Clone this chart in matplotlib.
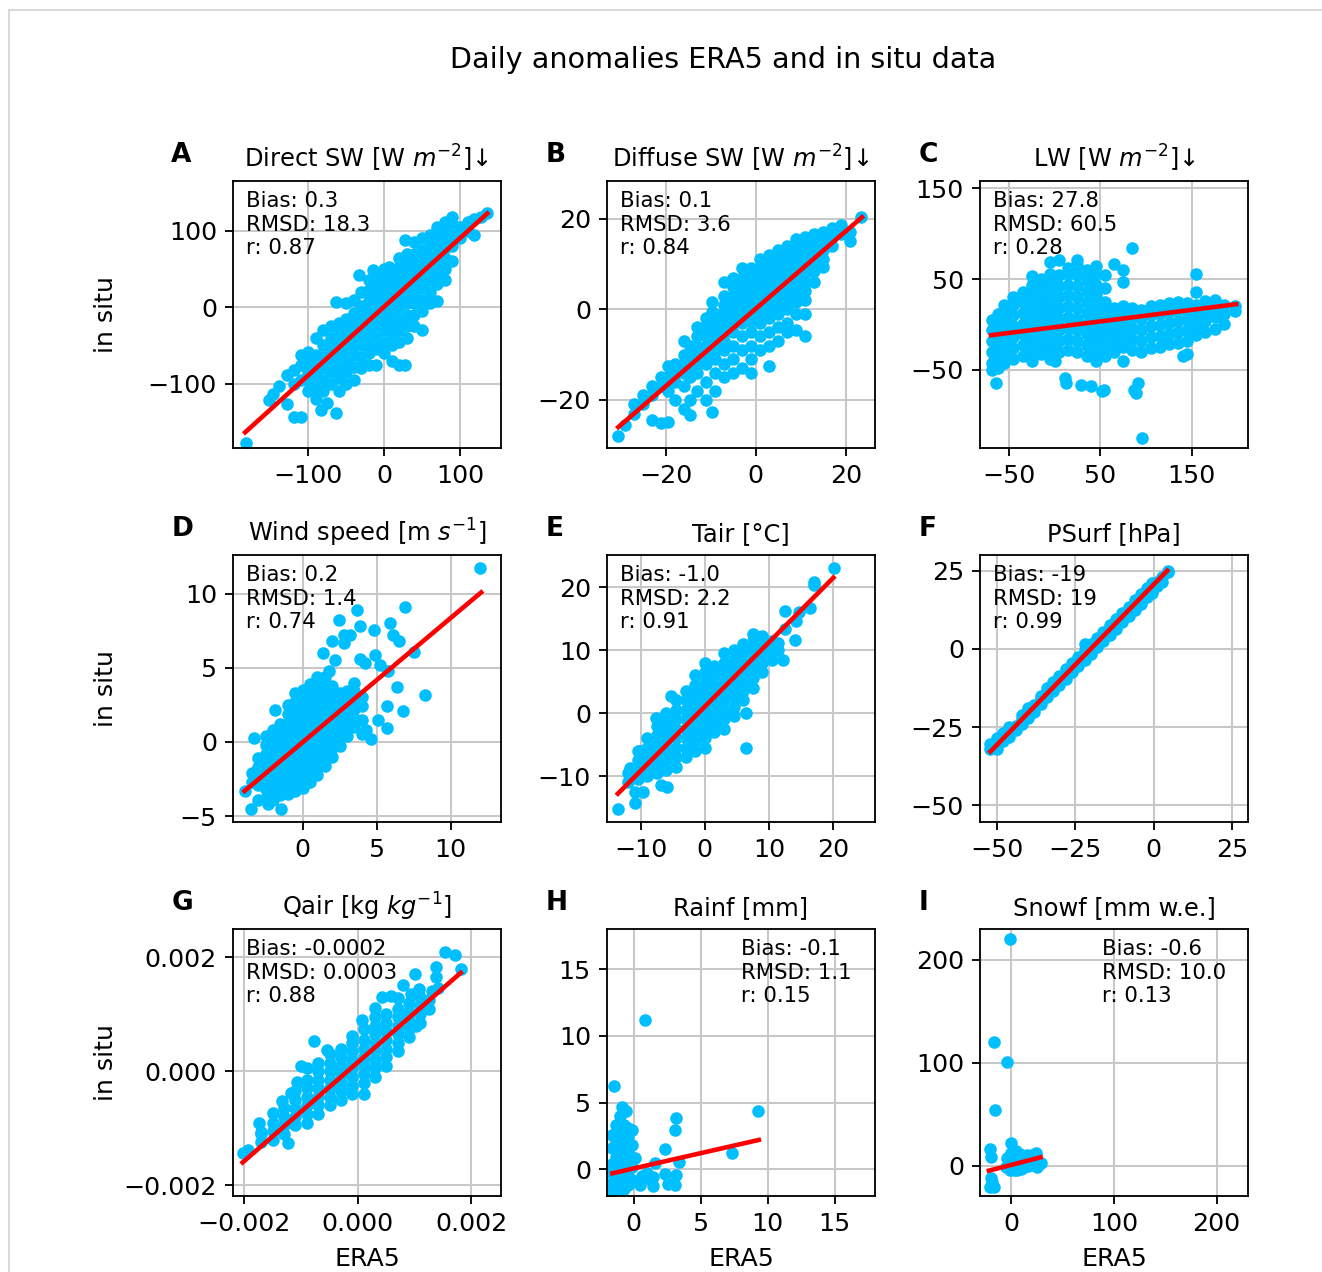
import matplotlib
matplotlib.use("Agg")
from matplotlib import pyplot as plt
from matplotlib.lines import Line2D

# scatter points: (era5, [in situ values])
a_cols = [
    (-182, [-178]),
    (-152, [-121]), (-146, [-114]), (-138, [-103]),
    (-128, [-126, -88]),
    (-118, [-143, -100, -82]),
    (-110, [-143, -95, -75, -62]),
    (-100, [-110, -97, -85, -70, -58]),
    (-90, [-120, -105, -90, -78, -62, -40]),
    (-83, [-134]),
    (-80, [-110, -95, -80, -65, -50, -30]),
    (-75, [-125]),
    (-70, [-100, -85, -70, -55, -40, -25]),
    (-63, [-138, 7]),
    (-60, [-110, -92, -78, -62, -48, -35, -20]),
    (-50, [-100, -85, -70, -55, -42, -30, -15, 5]),
    (-40, [-95, -78, -62, -48, -35, -22, -8, 10]),
    (-33, [42]),
    (-30, [-80, -65, -50, -37, -25, -12, 2, 20]),
    (-20, [-75, -60, -45, -30, -18, -5, 8, 22, 35]),
    (-14, [49]),
    (-10, [-75, -55, -40, -25, -12, 0, 12, 25, 40]),
    (0, [-60, -45, -30, -15, -2, 10, 22, 35, 50]),
    (6, [53]),
    (10, [-70, -50, -35, -20, -8, 5, 18, 30, 45]),
    (20, [-75, -45, -30, -15, 0, 12, 25, 38, 52, 65]),
    (28, [-75, 88]),
    (30, [-40, -25, -10, 5, 18, 30, 42, 55, 70]),
    (40, [-25, -10, 5, 20, 32, 45, 58, 70, 85]),
    (50, [-30, -5, 10, 25, 38, 50, 62, 75, 90]),
    (60, [5, 20, 35, 48, 60, 72, 85, 95]),
    (70, [8, 30, 45, 58, 70, 82, 95, 105]),
    (80, [35, 50, 65, 78, 90, 100, 112]),
    (90, [60, 80, 95, 110, 118]),
    (100, [90, 105]),
    (110, [100, 112]),
    (118, [95, 115]),
    (128, [118]),
    (136, [123]),
]

b_cols = [
    (-30.5, [-28]), (-29, [-25.5]), (-27, [-23, -21]), (-25, [-21, -19]),
    (-23, [-24.5, -19, -17]),
    (-21, [-25, -17, -15]),
    (-19.5, [-24.8, -18, -15, -12.6]),
    (-18, [-20, -16, -14, -12]),
    (-16, [-22, -17, -14, -12, -10, -7]),
    (-14.5, [-23.3, -20, -15, -12.5, -10, -8]),
    (-13, [-18, -14, -12, -10, -8, -6, -4]),
    (-11, [-20, -16, -12, -10, -8, -6, -4, -2]),
    (-9.6, [-22.6, -3, -0.5, 1.7]),
    (-9, [-18, -14, -11, -9, -7, -5, -3, -1]),
    (-7, [-15, -12, -9, -7, -5, -3, -1, 1, 3, 6]),
    (-5, [-14, -11, -8, -5, -3, -1, 1, 3, 5, 7]),
    (-3, [-13, -9, -6, -3, -1, 1, 3, 5, 7, 9]),
    (-1, [-14, -11, -8, -5, -2.5, -0.5, 1.5, 3.5, 5.5, 7.5, 9]),
    (1, [-9, -6, -3, -1, 1, 3, 5, 7, 9, 11]),
    (3, [-12.6, -8, -5, -2, 0, 2, 4, 6, 8, 10, 12]),
    (5, [-7, -4, -1, 1, 3, 5, 7, 9, 11, 13]),
    (7, [-5, -3, 0, 2, 4, 6, 8, 10, 12, 14]),
    (9, [-4.6, -1, 1.5, 3.5, 5.5, 7.5, 9.5, 11.5, 13.5, 15.5]),
    (11, [-6, -1, 2, 4, 6, 8, 10, 12, 14, 16]),
    (13, [6, 8.5, 10.5, 12.5, 14.5, 16.5]),
    (15, [9.4, 11, 13, 15, 17]),
    (17, [14, 16, 18]),
    (19, [16.5, 18.5]),
    (21, [15, 17]),
    (23.5, [20.3]),
]

c_cols = [
    (-68, [-50, -42, -30, -18, -6, 5]),
    (-64, [-64.7]),
    (-62, [-48, -36, -24, -12, 0, 12]),
    (-55, [-42, -30, -18, -6, 6, 14, 22]),
    (-45, [-38, -26, -14, -2, 10, 22, 30]),
    (-35, [-35, -23, -11, 1, 13, 25, 36]),
    (-25, [-40, -28, -16, -4, 8, 20, 32, 44, 53]),
    (-15, [-32, -20, -8, 4, 16, 28, 40, 50]),
    (-5, [-38, -26, -14, -2, 10, 22, 34, 46, 56, 69]),
    (1, [-40.6]),
    (5, [-30, -18, -6, 6, 18, 30, 42, 54, 71]),
    (11, [-59]), (12.5, [-64.5]),
    (15, [-28, -16, -4, 8, 20, 32, 44, 56, 62]),
    (25, [-30, -18, -6, 6, 18, 30, 42, 54, 66, 71]),
    (29, [-66.3]),
    (35, [-35, -23, -11, 1, 13, 25, 37, 49, 60]),
    (40, [-68]),
    (45, [-40, -28, -16, -4, 8, 20, 32, 44, 56, 64]),
    (52, [-73.7]), (54, [-71.8]),
    (55, [-35, -23, -11, 1, 13, 25, 40, 55]),
    (65, [-30, -18, -6, 6, 18, 67]),
    (75, [-40.6, -25, -13, -1, 11, 20, 47, 60]),
    (85, [-28, -16, -4, 8, 18, 84]),
    (87, [-71.8]), (89, [-75.5]), (91, [-64.5]),
    (95, [-30, -18, -6, 6, 16]),
    (96, [-125]),
    (105, [-26, -14, -2, 10, 20]),
    (115, [-25, -13, -1, 11, 22]),
    (125, [-22, -10, 2, 14, 24]),
    (135, [-20, -8, 4, 16, 25]),
    (141, [-35]),
    (145, [-33, -18, -6, 6, 16, 24]),
    (155, [-12, -2, 10, 22, 36, 56]),
    (165, [-8, 4, 15, 26]),
    (175, [-5, 8, 18, 27]),
    (185, [0, 12, 22]),
    (197, [15, 20]),
]

d_cols = [
    (-3.9, [-3.3]), (-3.5, [-4.55]), (-3.4, [-2.7, -2.1]), (-3.3, [0.27]),
    (-3.0, [-3.9, -2.9, -2.3, -1.7, -1.1]),
    (-2.5, [-3.8, -3.2, -2.6, -2.0, -1.4, -0.8, -0.2, 0.4]),
    (-2.35, [-4.2]),
    (-2.0, [-3.9, -3.3, -2.7, -2.1, -1.5, -0.9, -0.3, 0.3, 0.8]),
    (-1.84, [2.17]),
    (-1.5, [-3.6, -3.0, -2.4, -1.8, -1.2, -0.6, 0.0, 0.6, 1.2]),
    (-1.46, [-4.55]),
    (-1.0, [-3.5, -2.9, -2.3, -1.7, -1.1, -0.5, 0.1, 0.7, 1.3, 1.9, 2.5]),
    (-0.5, [-3.3, -2.7, -2.1, -1.5, -0.9, -0.3, 0.3, 0.9, 1.5, 2.1, 2.7, 3.3]),
    (0.0, [-3.1, -2.5, -1.9, -1.3, -0.7, -0.1, 0.5, 1.1, 1.7, 2.3, 2.9, 3.5]),
    (0.5, [-2.7, -2.1, -1.5, -0.9, -0.3, 0.3, 0.9, 1.5, 2.1, 2.7, 3.3, 3.9]),
    (1.0, [-2.2, -1.6, -1.0, -0.4, 0.2, 0.8, 1.4, 2.0, 2.6, 3.2, 3.8, 4.4]),
    (1.4, [6.0]),
    (1.5, [-1.6, -1.0, -0.4, 0.2, 0.8, 1.4, 2.0, 2.6, 3.2, 3.8, 4.4]),
    (1.75, [4.75]),
    (2.0, [-1.0, -0.4, 0.2, 0.8, 1.4, 2.0, 2.6, 3.2, 3.8, 6.8]),
    (2.2, [5.5]), (2.47, [8.2]),
    (2.5, [-0.3, 0.3, 0.9, 1.5, 2.1, 2.7, 3.3]),
    (2.8, [6.65, 7.2]),
    (3.0, [0.4, 1.0, 1.6, 2.2, 2.8, 3.4]),
    (3.2, [7.2]),
    (3.5, [1.0, 1.6, 2.2, 2.8, 3.4, 4.0]),
    (3.7, [8.9]), (3.9, [5.6, 7.84]),
    (4.0, [0.5, 1.5, 2.4, 3.0]),
    (4.2, [5.3]), (4.3, [0.83]), (4.6, [0.2]), (4.8, [7.55]), (4.9, [5.87]),
    (5.1, [1.5]), (5.2, [5.2]), (5.7, [0.94, 2.4]), (5.8, [4.75]), (5.9, [8.0]),
    (6.1, [7.2]), (6.4, [3.7]), (6.5, [6.83]), (6.8, [2.1]), (6.9, [9.07]),
    (7.5, [6.05]), (8.25, [3.13]), (12.0, [11.73]),
]

e_cols = [
    (-13.6, [-15.3]), (-12, [-11, -9.5]), (-11.7, [-8.7]), (-10.9, [-14.3, -12.6]),
    (-10.5, [-10.5, -9, -7.5, -6]),
    (-10.1, [-6.1]), (-9.6, [-12.6]),
    (-9, [-10, -8.5, -7, -5.5, -4]),
    (-7.7, [-0.8]),
    (-7.5, [-9.5, -8, -6.5, -5, -3.5, -2]),
    (-6.8, [-11.4]),
    (-6, [-9, -7.5, -6, -4.5, -3, -1.5, 0]),
    (-5.9, [-11.7]), (-5.3, [2.7]),
    (-4.5, [-8.5, -7, -5.5, -4, -2.5, -1, 0.5, 2]),
    (-3, [-7, -5.5, -4, -2.5, -1, 0.5, 2, 3.5]),
    (-1.5, [-6, -4.5, -3, -1.5, 0, 1.5, 3, 4.5, 6]),
    (0, [-5.5, -4, -2.5, -1, 0.5, 2, 3.5, 5, 6.5, 8]),
    (1.5, [-3, -1.5, 0, 1.5, 3, 4.5, 6, 7.5]),
    (3, [-2.5, -1, 0.5, 2, 3.5, 5, 6.5, 8, 9.5]),
    (4.5, [-0.5, 1, 2.5, 4, 5.5, 7, 8.5, 10]),
    (6, [2, 3.5, 5, 6.5, 8, 9.5, 11]),
    (6.5, [-5.5, 0]),
    (7.5, [4, 5.5, 7, 8.5, 10, 11.5, 12.5]),
    (9, [6.5, 8, 9.5, 11, 12.3]),
    (10.5, [8.5, 10, 11.5]),
    (11.5, [10, 11.2]),
    (12.2, [8.4]), (12.5, [16.2]), (12.6, [13.4]), (14.1, [11.6]),
    (14.2, [14.6]), (14.7, [16.0]), (16.5, [16.7]), (17.1, [20.3, 20.8]),
    (20.2, [23.0]),
]

f_cols = [
    (-52, [-32, -30.5]), (-50, [-32, -30, -28.5]), (-48, [-29.5, -28, -27]),
    (-46, [-28, -26.5, -25]), (-44, [-26, -24.5, -25.5]), (-42, [-24, -22.5, -21]),
    (-40, [-22, -20.5, -19]), (-38, [-20, -18, -19]), (-36, [-17.5, -16, -15]),
    (-34, [-15.5, -14, -12.5]), (-32, [-13.5, -12, -10.5]), (-30, [-11.5, -10, -8.5]),
    (-28, [-9.5, -8, -6.5]), (-26, [-7.5, -6, -4.5]), (-24, [-5.5, -4, -2.5]),
    (-22, [-3.5, -2, -0.5, 1.5]), (-20, [-1.5, 0, 1.5]), (-18, [0.5, 2, 3.5]),
    (-16, [2.5, 4, 5.5]), (-14, [4.5, 6, 7.5]), (-12, [6.5, 8, 9.5]),
    (-10, [8.5, 10, 11.5]), (-8, [10.5, 12, 13.5]), (-6, [12.5, 14, 15.5]),
    (-4, [14.5, 16, 17.5]), (-2, [16.5, 18, 19.5]), (-0.5, [18, 19.5, 21]),
    (1, [20, 21.5]), (2.5, [21.5, 23]), (4.5, [24.5, 25]),
]

# Qair values are in units of 1e-3 kg/kg
g_cols = [
    (-2.03, [-1.44]), (-1.94, [-1.38]), (-1.75, [-0.91]), (-1.71, [-1.06]),
    (-1.7, [-1.25, -1.1]),
    (-1.5, [-1.2, -1.05, -0.9, -0.73]),
    (-1.33, [-0.53]),
    (-1.3, [-1.1, -0.95, -0.8, -0.65]),
    (-1.24, [-1.26]), (-1.18, [-0.38]),
    (-1.1, [-0.95, -0.8, -0.65, -0.5, -0.35]),
    (-1.08, [-0.18]), (-1.0, [0.09]),
    (-0.9, [-0.9, -0.75, -0.6, -0.45, -0.3, -0.15, 0.05]),
    (-0.78, [0.53]),
    (-0.7, [-0.75, -0.6, -0.45, -0.3, -0.15, 0.0, 0.15]),
    (-0.54, [0.38]),
    (-0.5, [-0.6, -0.45, -0.3, -0.15, 0.0, 0.15, 0.3]),
    (-0.3, [-0.5, -0.35, -0.2, -0.05, 0.1, 0.25, 0.4]),
    (-0.1, [-0.4, -0.25, -0.1, 0.05, 0.2, 0.35, 0.5, 0.62]),
    (0.07, [0.91]),
    (0.1, [-0.4, -0.2, -0.05, 0.1, 0.25, 0.4, 0.55, 0.75]),
    (0.3, [-0.1, 0.05, 0.2, 0.35, 0.5, 0.65, 0.8, 0.95, 1.11]),
    (0.42, [1.31]),
    (0.5, [0.1, 0.25, 0.4, 0.55, 0.7, 0.85, 1.0]),
    (0.58, [1.32]),
    (0.7, [0.35, 0.5, 0.65, 0.8, 0.95, 1.1, 1.29]),
    (0.8, [1.52]),
    (0.9, [0.6, 0.75, 0.9, 1.05, 1.2]),
    (0.94, [1.35]), (1.0, [1.71]), (1.03, [0.79]), (1.07, [1.45]),
    (1.1, [0.85, 1.0, 1.15, 1.3]),
    (1.25, [1.1, 1.25]), (1.3, [1.41]), (1.37, [1.65, 1.84]), (1.41, [1.47]),
    (1.53, [2.09]), (1.71, [2.04]), (1.81, [1.8]),
]

h_cols = [
    (-1.6, [-1.6, -1.0, -0.3, 0.4, 1.6, 2.6]),
    (-1.5, [6.22]),
    (-1.3, [-1.5, -0.9, -0.3, 0.3, 0.9, 1.5, 2.1, 2.7, 3.3]),
    (-1.0, [-1.4, -0.8, -0.2, 0.4, 1.0, 1.6, 2.2, 2.8, 3.4, 4.0]),
    (-0.88, [4.7]),
    (-0.7, [-1.5, -0.9, -0.3, 0.3, 0.9, 1.5, 2.1, 2.7, 3.3]),
    (-0.6, [4.4]),
    (-0.4, [-1.2, -0.6, 0.0, 0.6, 1.2, 1.8, 2.5, 3.1]),
    (-0.1, [-0.8, 0.2, 0.8, 1.8, 2.96]),
    (0.07, [0.83]), (0.45, [-1.18]), (0.6, [-0.5]), (0.85, [11.2]),
    (0.95, [-0.3]), (1.2, [-0.7]), (1.4, [-1.25]), (1.45, [-0.55]),
    (1.58, [0.45]), (2.33, [1.5, -0.35]), (2.58, [-1.1]),
    (3.08, [2.96, -1.18]), (3.15, [3.84, -0.43]), (3.4, [0.58]),
    (7.3, [1.2]), (9.28, [4.4]),
]

i_cols = [
    (-20.8, [15.9, -20.4]), (-20, [-12.3]), (-19.5, [8.8]), (-19, [-16]),
    (-16.9, [120, -20.4]), (-15.9, [54]), (-5.5, [-1]), (-4.5, [7.1]),
    (-3.9, [101]), (-1.3, [220]), (-1, [-4, 2]), (0, [21.7, 12, 6]),
    (3, [-4, 1, 6]), (4.2, [14.6]), (6, [-4, 1, 6]), (8, [11]),
    (9, [-3, 3]), (12, [-1, 4, 8]), (15.6, [10.4]), (16, [0, 5]),
    (20, [1, 6, 10]), (23.7, [12]), (24, [5]), (25.3, [-1]), (28.6, [2.3]),
]

# regression line end points (x0, x1), (y0, y1)
fit_lines = [
    ([-183, 136], [-163.5, 122.6]),
    ([-30.5, 23.6], [-26, 20.3]),
    ([-69.4, 198.6], [-11.8, 22.3]),
    ([-3.92, 12.06], [-3.31, 10.08]),
    ([-13.6, 20.1], [-12.8, 21.5]),
    ([-52, 4.3], [-32.8, 25]),
    ([-2.03e-3, 1.81e-3], [-1.6e-3, 1.73e-3]),
    ([-1.6, 9.33], [-0.3, 2.2]),
    ([-21.8, 28.6], [-4.9, 8.1]),
]

titles = [
    "Direct SW [W $m^{-2}$]\u2193", "Diffuse SW [W $m^{-2}$]\u2193", "LW [W $m^{-2}$]\u2193",
    "Wind speed [m $s^{-1}$]", "Tair [\u00b0C]", "PSurf [hPa]",
    "Qair [kg $kg^{-1}$]", "Rainf [mm]", "Snowf [mm w.e.]",
]
letters = ["A", "B", "C", "D", "E", "F", "G", "H", "I"]
stats = [
    "Bias: 0.3\nRMSD: 18.3\nr: 0.87",
    "Bias: 0.1\nRMSD: 3.6\nr: 0.84",
    "Bias: 27.8\nRMSD: 60.5\nr: 0.28",
    "Bias: 0.2\nRMSD: 1.4\nr: 0.74",
    "Bias: -1.0\nRMSD: 2.2\nr: 0.91",
    "Bias: -19\nRMSD: 19\nr: 0.99",
    "Bias: -0.0002\nRMSD: 0.0003\nr: 0.88",
    "Bias: -0.1\nRMSD: 1.1\nr: 0.15",
    "Bias: -0.6\nRMSD: 10.0\nr: 0.13",
]

# axis settings
xlims = [(-199, 154), (-33, 26.5), (-81.5, 211.6), (-4.7, 13.4), (-15.3, 26.6),
         (-55.3, 30), (-0.0022, 0.00252), (-2, 18), (-30.5, 230.5)]
ylims = [(-184, 165), (-30.6, 28.3), (-136, 158), (-5.4, 12.6), (-17.3, 25.1),
         (-55.3, 30), (-0.00219, 0.0025), (-2, 18), (-29.5, 229.8)]
xticks = [[-100, 0, 100], [-20, 0, 20], [-50, 50, 150], [0, 5, 10], [-10, 0, 10, 20],
          [-50, -25, 0, 25], [-0.002, 0, 0.002], [0, 5, 10, 15], [0, 100, 200]]
yticks = [[-100, 0, 100], [-20, 0, 20], [-50, 50, 150], [-5, 0, 5, 10], [-10, 0, 10, 20],
          [-50, -25, 0, 25], [-0.002, 0, 0.002], [0, 5, 10, 15], [0, 100, 200]]


def expand(cols, scale=1.0):
    xs = []
    ys = []
    for x, y_list in cols:
        for y in y_list:
            xs.append(x * scale)
            ys.append(y * scale)
    return xs, ys


W, H = 1322, 1272
DPI = 165
fig = plt.figure(figsize=(W / DPI, H / DPI), dpi=DPI)

# light page frame seen at the top and left edge
fig.add_artist(Line2D([9 / W, 1], [1 - 10 / H, 1 - 10 / H], color="#d2d2d2", lw=0.7))
fig.add_artist(Line2D([9 / W, 9 / W], [0, 1 - 10 / H], color="#d2d2d2", lw=0.7))

fig.text(723 / W, 1 - 68 / H, "Daily anomalies ERA5 and in situ data",
         ha="center", va="baseline", fontsize=12.5)

all_cols = [a_cols, b_cols, c_cols, d_cols, e_cols, f_cols, g_cols, h_cols, i_cols]
lefts = [233, 607, 980]
tops = [181, 555, 929]
ax_w, ax_h = 268, 267

for k in range(9):
    row, col = divmod(k, 3)
    rect = [lefts[col] / W, 1 - (tops[row] + ax_h) / H, ax_w / W, ax_h / H]
    ax = fig.add_axes(rect)

    scale = 1e-3 if k == 6 else 1.0
    xs, ys = expand(all_cols[k], scale)
    # default scatter look: s=20 with a face coloured edge
    ax.scatter(xs, ys, s=20, color="#00bfff", zorder=2)
    ax.plot(fit_lines[k][0], fit_lines[k][1], color="red", lw=2, zorder=3)

    ax.set_xlim(xlims[k])
    ax.set_ylim(ylims[k])
    ax.set_xticks(xticks[k])
    ax.set_yticks(yticks[k])
    ax.tick_params(labelsize=11)
    ax.set_axisbelow(True)
    ax.grid(True, color="#c8c8c8", lw=0.9)

    ax.set_title(titles[k], fontsize=10.5)
    ax.text(-0.23, 1.07, letters[k], transform=ax.transAxes, fontsize=11.5,
            fontweight="bold", ha="left", va="baseline")

    # stats box position: top left, except rain and snow
    tx = 0.048
    if k == 7:
        tx = 0.5
    elif k == 8:
        tx = 0.455
    ax.text(tx, 0.962, stats[k], transform=ax.transAxes, fontsize=9.3,
            ha="left", va="top", linespacing=1.22, zorder=4)

    if col == 0:
        ax.set_ylabel("in situ", fontsize=11)
        ax.yaxis.set_label_coords(-0.43, 0.5)
    if row == 2:
        ax.set_xlabel("ERA5", fontsize=11, labelpad=5)

fig.savefig("out.png", dpi=DPI)
